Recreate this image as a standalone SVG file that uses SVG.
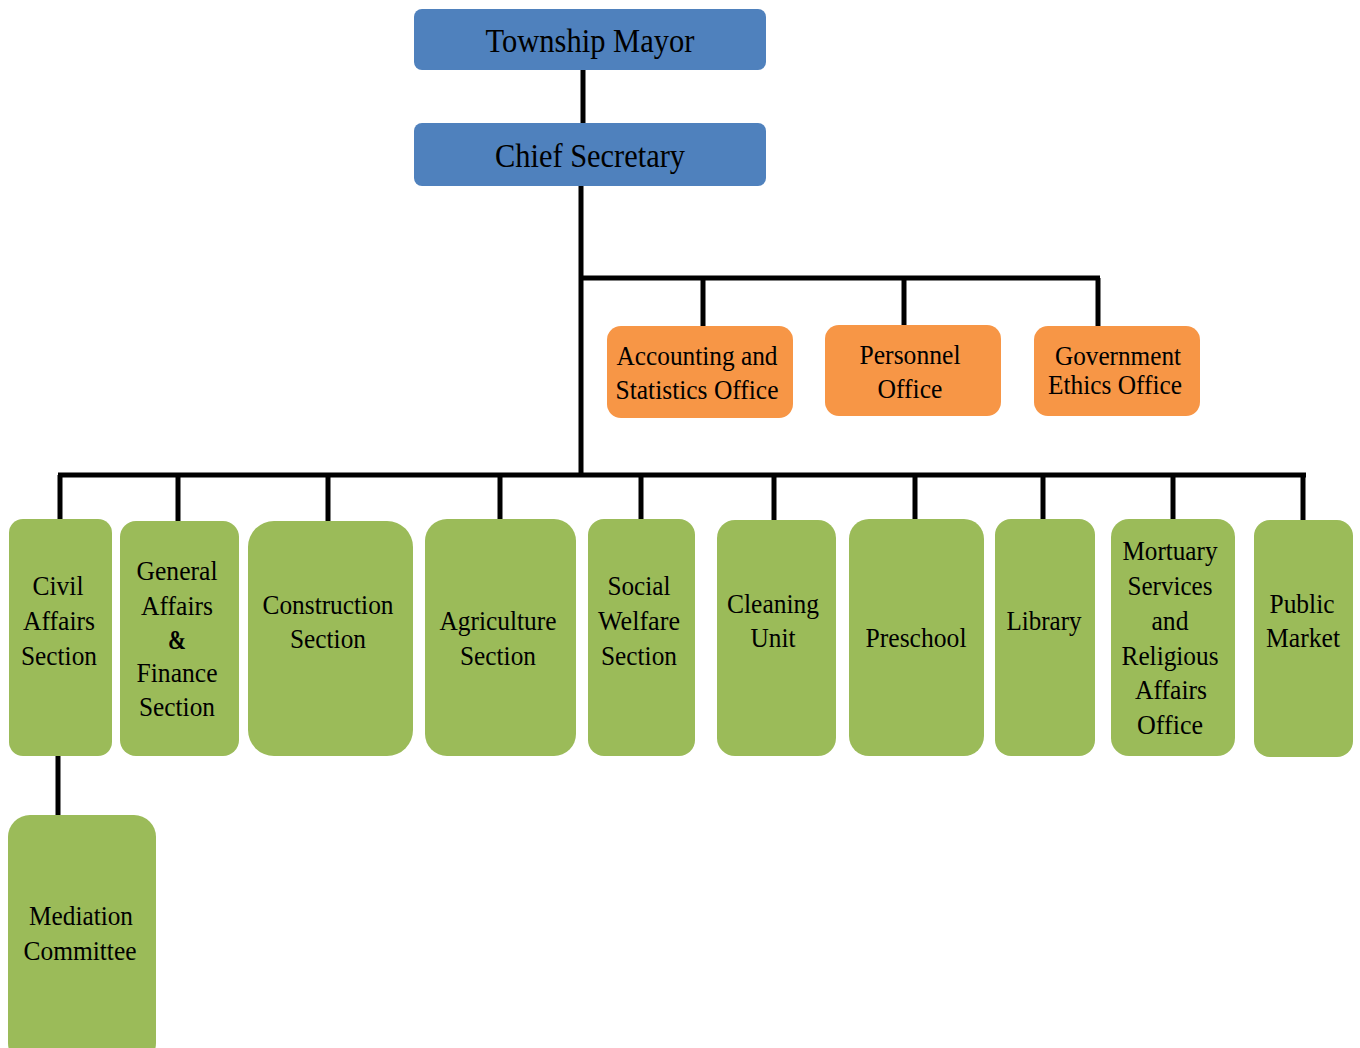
<svg xmlns="http://www.w3.org/2000/svg" width="1360" height="1048" viewBox="0 0 1360 1048">
<style>
.blue{fill:#4F81BD}
.orange{fill:#F79646}
.green{fill:#9BBB59}
text{font-family:"Liberation Serif","Times New Roman",serif;font-size:28px;fill:#000;text-anchor:middle}
.big{font-size:34px}
.conn{stroke:#000;stroke-width:5;fill:none}
</style>
<rect width="1360" height="1048" fill="#fff"/>
<g id="connectors" class="conn">
<line x1="583" y1="70" x2="583" y2="123"/>
<line x1="581" y1="186" x2="581" y2="477"/>
<line x1="581" y1="278" x2="1100" y2="278"/>
<line x1="703" y1="278" x2="703" y2="326"/>
<line x1="904" y1="278" x2="904" y2="325"/>
<line x1="1098" y1="278" x2="1098" y2="326"/>
<line x1="58" y1="475" x2="1306" y2="475"/>
<line x1="60" y1="475" x2="60" y2="519"/>
<line x1="178" y1="475" x2="178" y2="521"/>
<line x1="328" y1="475" x2="328" y2="521"/>
<line x1="500" y1="475" x2="500" y2="519"/>
<line x1="641" y1="475" x2="641" y2="519"/>
<line x1="774" y1="475" x2="774" y2="520"/>
<line x1="915" y1="475" x2="915" y2="519"/>
<line x1="1043" y1="475" x2="1043" y2="519"/>
<line x1="1173" y1="475" x2="1173" y2="519"/>
<line x1="1303" y1="475" x2="1303" y2="520"/>
<line x1="58" y1="756" x2="58" y2="816"/>
</g>
<g id="mayor">
<rect class="blue" x="414" y="9" width="352" height="61" rx="8"/>
<text class="big" x="590" y="52" textLength="209" lengthAdjust="spacingAndGlyphs">Township Mayor</text>
</g>
<g id="chief-secretary">
<rect class="blue" x="414" y="123" width="352" height="63" rx="8"/>
<text class="big" x="590" y="167" textLength="190" lengthAdjust="spacingAndGlyphs">Chief Secretary</text>
</g>
<g id="accounting">
<rect class="orange" x="607" y="326" width="186" height="92" rx="14"/>
<text x="697" y="365" textLength="161" lengthAdjust="spacingAndGlyphs">Accounting and</text>
<text x="697" y="399" textLength="163" lengthAdjust="spacingAndGlyphs">Statistics Office</text>
</g>
<g id="personnel">
<rect class="orange" x="825" y="325" width="176" height="91" rx="14"/>
<text x="910" y="364" textLength="101" lengthAdjust="spacingAndGlyphs">Personnel</text>
<text x="910" y="398" textLength="65" lengthAdjust="spacingAndGlyphs">Office</text>
</g>
<g id="ethics">
<rect class="orange" x="1034" y="326" width="166" height="90" rx="14"/>
<text x="1118" y="365" textLength="126" lengthAdjust="spacingAndGlyphs">Government</text>
<text x="1115" y="394" textLength="134" lengthAdjust="spacingAndGlyphs">Ethics Office</text>
</g>
<g id="civil-affairs">
<rect class="green" x="9" y="519" width="103" height="237" rx="14"/>
<text x="58" y="595" textLength="51" lengthAdjust="spacingAndGlyphs">Civil</text>
<text x="59" y="630" textLength="72" lengthAdjust="spacingAndGlyphs">Affairs</text>
<text x="59" y="665" textLength="76" lengthAdjust="spacingAndGlyphs">Section</text>
</g>
<g id="general-affairs">
<rect class="green" x="120" y="521" width="119" height="235" rx="16"/>
<text x="177" y="580" textLength="81" lengthAdjust="spacingAndGlyphs">General</text>
<text x="177" y="615" textLength="72" lengthAdjust="spacingAndGlyphs">Affairs</text>
<text x="177" y="649" style="font-weight:bold" textLength="18" lengthAdjust="spacingAndGlyphs">&amp;</text>
<text x="177" y="682" textLength="81" lengthAdjust="spacingAndGlyphs">Finance</text>
<text x="177" y="716" textLength="76" lengthAdjust="spacingAndGlyphs">Section</text>
</g>
<g id="construction">
<rect class="green" x="248" y="521" width="165" height="235" rx="26"/>
<text x="328" y="614" textLength="131" lengthAdjust="spacingAndGlyphs">Construction</text>
<text x="328" y="648" textLength="76" lengthAdjust="spacingAndGlyphs">Section</text>
</g>
<g id="agriculture">
<rect class="green" x="425" y="519" width="151" height="237" rx="22"/>
<text x="498" y="630" textLength="117" lengthAdjust="spacingAndGlyphs">Agriculture</text>
<text x="498" y="665" textLength="76" lengthAdjust="spacingAndGlyphs">Section</text>
</g>
<g id="social-welfare">
<rect class="green" x="588" y="519" width="107" height="237" rx="16"/>
<text x="639" y="595" textLength="63" lengthAdjust="spacingAndGlyphs">Social</text>
<text x="639" y="630" textLength="82" lengthAdjust="spacingAndGlyphs">Welfare</text>
<text x="639" y="665" textLength="76" lengthAdjust="spacingAndGlyphs">Section</text>
</g>
<g id="cleaning">
<rect class="green" x="717" y="520" width="119" height="236" rx="18"/>
<text x="773" y="613" textLength="92" lengthAdjust="spacingAndGlyphs">Cleaning</text>
<text x="773" y="647" textLength="45" lengthAdjust="spacingAndGlyphs">Unit</text>
</g>
<g id="preschool">
<rect class="green" x="849" y="519" width="135" height="237" rx="20"/>
<text x="916" y="647" textLength="101" lengthAdjust="spacingAndGlyphs">Preschool</text>
</g>
<g id="library">
<rect class="green" x="995" y="519" width="100" height="237" rx="16"/>
<text x="1044" y="630" textLength="75" lengthAdjust="spacingAndGlyphs">Library</text>
</g>
<g id="mortuary">
<rect class="green" x="1111" y="519" width="124" height="237" rx="18"/>
<text x="1170" y="560" textLength="95" lengthAdjust="spacingAndGlyphs">Mortuary</text>
<text x="1170" y="595" textLength="85" lengthAdjust="spacingAndGlyphs">Services</text>
<text x="1170" y="630" textLength="37" lengthAdjust="spacingAndGlyphs">and</text>
<text x="1170" y="665" textLength="97" lengthAdjust="spacingAndGlyphs">Religious</text>
<text x="1171" y="699" textLength="72" lengthAdjust="spacingAndGlyphs">Affairs</text>
<text x="1170" y="734" textLength="66" lengthAdjust="spacingAndGlyphs">Office</text>
</g>
<g id="public-market">
<rect class="green" x="1254" y="520" width="99" height="237" rx="16"/>
<text x="1302" y="613" textLength="65" lengthAdjust="spacingAndGlyphs">Public</text>
<text x="1303" y="647" textLength="74" lengthAdjust="spacingAndGlyphs">Market</text>
</g>
<g id="mediation">
<rect class="green" x="8" y="815" width="148" height="250" rx="22"/>
<text x="81" y="925" textLength="104" lengthAdjust="spacingAndGlyphs">Mediation</text>
<text x="80" y="960" textLength="113" lengthAdjust="spacingAndGlyphs">Committee</text>
</g>
</svg>
